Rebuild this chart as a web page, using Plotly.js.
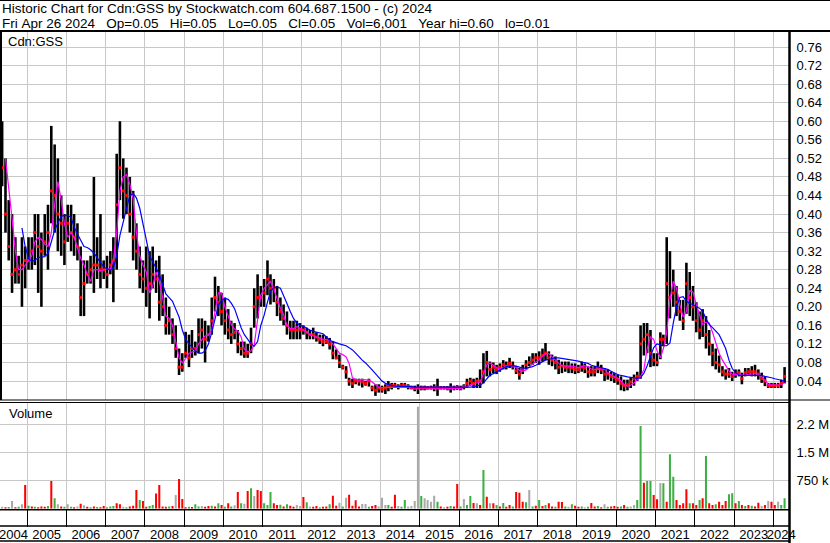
<!DOCTYPE html>
<html>
<head>
<meta charset="utf-8">
<script src="https://cdn.plot.ly/plotly-3.0.1.min.js"></script>
<style>html,body{margin:0;padding:0;background:#fff;}#chart{width:830px;height:543px;}</style>
</head>
<body>
<div id="chart"></div>
<script>
// ---- DATA (monthly bars, May 2004 .. Apr 2024) ----
const startYear = 2004, startMonth = 5, nMonths = 240;

const high = [
 0.60,0.52,0.43,0.40,0.35,0.31,0.35,0.33,
 0.35,0.35,0.40,0.40,0.36,0.40,0.42,0.59,0.55,0.52,0.44,0.40,
 0.42,0.42,0.40,0.38,0.33,0.30,0.30,0.31,0.48,0.35,0.40,0.30,
 0.31,0.32,0.35,0.53,0.60,0.52,0.50,0.48,0.45,0.38,0.33,0.30,
 0.33,0.32,0.33,0.30,0.31,0.27,0.22,0.20,0.175,0.16,0.11,0.10,
 0.146,0.14,0.15,0.125,0.175,0.175,0.17,0.16,0.22,0.265,0.245,0.23,
 0.22,0.195,0.17,0.165,0.15,0.125,0.125,0.12,0.155,0.24,0.27,0.245,
 0.26,0.30,0.27,0.26,0.245,0.22,0.205,0.19,0.17,0.17,0.17,0.165,
 0.16,0.155,0.15,0.155,0.145,0.14,0.14,0.137,0.133,0.126,0.108,0.097,
 0.075,0.072,0.047,0.045,0.045,0.045,0.045,0.04,0.045,0.03,0.033,0.033,
 0.03,0.033,0.04,0.036,0.036,0.033,0.036,0.036,0.033,0.03,0.03,0.033,
 0.03,0.03,0.029,0.03,0.033,0.045,0.029,0.029,0.029,0.035,0.03,0.031,
 0.03,0.033,0.045,0.047,0.045,0.047,0.065,0.10,0.105,0.082,0.08,0.075,
 0.078,0.085,0.082,0.09,0.082,0.072,0.068,0.075,0.085,0.093,0.10,0.10,
 0.104,0.11,0.122,0.104,0.097,0.093,0.086,0.082,0.082,0.082,0.078,0.078,
 0.075,0.082,0.078,0.072,0.072,0.072,0.082,0.075,0.068,0.065,0.06,0.057,
 0.054,0.05,0.043,0.043,0.047,0.054,0.06,0.16,0.165,0.165,0.15,0.10,
 0.10,0.145,0.14,0.35,0.32,0.28,0.245,0.215,0.215,0.295,0.275,0.245,
 0.21,0.19,0.195,0.18,0.15,0.12,0.11,0.095,0.072,0.065,0.068,0.06,
 0.065,0.065,0.058,0.068,0.068,0.072,0.075,0.065,0.058,0.05,0.036,0.036,
 0.036,0.036,0.043,0.07
];
const low = [
 0.46,0.36,0.30,0.23,0.25,0.25,0.20,0.24,
 0.28,0.28,0.29,0.23,0.20,0.31,0.28,0.38,0.36,0.32,0.31,0.29,
 0.34,0.32,0.31,0.30,0.18,0.18,0.25,0.25,0.23,0.26,0.24,0.26,
 0.24,0.27,0.21,0.28,0.43,0.39,0.40,0.36,0.30,0.28,0.24,0.23,
 0.20,0.175,0.24,0.23,0.17,0.18,0.14,0.14,0.12,0.09,0.053,0.06,
 0.09,0.07,0.09,0.095,0.10,0.11,0.08,0.125,0.14,0.19,0.18,0.16,
 0.14,0.13,0.12,0.13,0.10,0.095,0.09,0.09,0.10,0.155,0.175,0.20,
 0.20,0.225,0.205,0.21,0.18,0.17,0.16,0.14,0.13,0.13,0.13,0.13,
 0.14,0.13,0.13,0.13,0.125,0.12,0.115,0.12,0.108,0.087,0.087,0.068,
 0.065,0.045,0.03,0.025,0.033,0.03,0.026,0.03,0.028,0.018,0.008,0.015,
 0.015,0.012,0.018,0.022,0.025,0.022,0.025,0.025,0.022,0.022,0.018,0.012,
 0.02,0.02,0.022,0.022,0.018,0.008,0.022,0.022,0.02,0.015,0.02,0.021,
 0.02,0.022,0.025,0.03,0.025,0.025,0.025,0.035,0.05,0.05,0.057,0.055,
 0.06,0.065,0.065,0.068,0.065,0.055,0.043,0.055,0.065,0.072,0.075,0.079,
 0.075,0.082,0.085,0.075,0.072,0.065,0.055,0.057,0.06,0.057,0.057,0.055,
 0.057,0.06,0.057,0.047,0.05,0.05,0.057,0.055,0.04,0.043,0.04,0.036,
 0.032,0.02,0.018,0.02,0.025,0.03,0.04,0.045,0.095,0.10,0.07,0.072,
 0.072,0.087,0.115,0.12,0.175,0.20,0.18,0.17,0.15,0.185,0.18,0.17,
 0.145,0.13,0.135,0.11,0.095,0.072,0.065,0.058,0.05,0.043,0.047,0.04,
 0.047,0.05,0.033,0.05,0.054,0.05,0.05,0.043,0.036,0.029,0.025,0.025,
 0.025,0.025,0.025,0.035
];
const close = [
 0.50,0.40,0.33,0.27,0.28,0.27,0.29,0.30,
 0.30,0.32,0.36,0.33,0.32,0.34,0.36,0.45,0.44,0.40,0.38,0.34,
 0.38,0.36,0.35,0.33,0.22,0.25,0.27,0.28,0.29,0.29,0.28,0.28,
 0.27,0.29,0.30,0.42,0.50,0.45,0.44,0.40,0.35,0.32,0.27,0.26,
 0.24,0.25,0.27,0.26,0.21,0.20,0.16,0.17,0.14,0.11,0.07,0.07,
 0.10,0.09,0.11,0.11,0.14,0.15,0.13,0.14,0.17,0.22,0.21,0.19,
 0.17,0.15,0.14,0.145,0.12,0.11,0.10,0.10,0.12,0.20,0.22,0.22,
 0.23,0.26,0.24,0.24,0.21,0.19,0.175,0.16,0.15,0.15,0.15,0.15,
 0.15,0.145,0.14,0.14,0.135,0.13,0.125,0.125,0.12,0.10,0.09,0.08,
 0.07,0.06,0.04,0.035,0.04,0.04,0.038,0.035,0.04,0.025,0.02,0.025,
 0.022,0.025,0.03,0.03,0.03,0.028,0.03,0.03,0.028,0.026,0.024,0.025,
 0.025,0.025,0.025,0.025,0.025,0.025,0.025,0.025,0.024,0.025,0.025,0.026,
 0.025,0.028,0.035,0.04,0.035,0.04,0.04,0.06,0.08,0.065,0.07,0.065,
 0.07,0.075,0.072,0.078,0.072,0.062,0.055,0.065,0.075,0.08,0.085,0.09,
 0.09,0.095,0.10,0.09,0.085,0.08,0.07,0.072,0.07,0.07,0.068,0.065,
 0.065,0.07,0.068,0.06,0.06,0.06,0.068,0.065,0.055,0.055,0.05,0.048,
 0.043,0.035,0.03,0.032,0.038,0.045,0.05,0.12,0.13,0.14,0.10,0.085,
 0.08,0.13,0.13,0.25,0.22,0.23,0.21,0.19,0.17,0.25,0.22,0.20,
 0.17,0.15,0.17,0.14,0.12,0.10,0.08,0.075,0.06,0.055,0.055,0.05,
 0.055,0.058,0.045,0.058,0.06,0.06,0.06,0.055,0.045,0.04,0.03,0.03,
 0.03,0.03,0.035,0.05
];
// short moving average (magenta)
const maShort = [
 null,0.52,0.46,0.39,0.32,0.28,0.28,0.29,
 0.30,0.31,0.34,0.35,0.345,0.335,0.33,0.36,0.42,0.47,0.43,0.38,
 0.35,0.36,0.35,0.325,0.305,0.29,0.27,0.255,0.28,0.28,0.277,0.28,
 0.282,0.282,0.30,0.36,0.45,0.48,0.485,0.465,0.433,0.36,0.31,0.29,
 0.275,0.23,0.245,0.275,0.255,0.22,0.18,0.175,0.16,0.125,0.09,0.079,
 0.088,0.10,0.102,0.105,0.12,0.13,0.137,0.139,0.15,0.19,0.23,0.23,
 0.20,0.18,0.162,0.152,0.148,0.135,0.108,0.103,0.105,0.118,0.17,0.225,
 0.24,0.247,0.255,0.238,0.216,0.197,0.183,0.16,0.153,0.153,0.157,0.153,
 0.15,0.146,0.14,0.137,0.135,0.133,0.13,0.13,0.127,0.12,0.11,0.10,
 0.097,0.092,0.078,0.047,0.043,0.042,0.043,0.043,0.042,0.038,0.032,0.027,
 0.026,0.026,0.027,0.027,0.027,0.027,0.027,0.027,0.026,0.025,0.025,0.024,
 0.024,0.024,0.024,0.024,0.024,0.025,0.024,0.024,0.024,0.024,0.024,0.024,
 0.024,0.026,0.028,0.032,0.034,0.036,0.038,0.055,0.075,0.079,0.073,0.069,
 0.066,0.07,0.072,0.074,0.073,0.069,0.063,0.061,0.064,0.07,0.077,0.081,
 0.086,0.094,0.099,0.099,0.092,0.086,0.078,0.073,0.072,0.072,0.072,0.071,
 0.069,0.071,0.073,0.071,0.066,0.065,0.065,0.067,0.065,0.057,0.053,0.05,
 0.046,0.04,0.032,0.029,0.031,0.036,0.042,0.05,0.065,0.11,0.135,0.13,
 0.105,0.09,0.11,0.145,0.215,0.255,0.24,0.205,0.178,0.19,0.235,0.232,
 0.205,0.18,0.162,0.167,0.165,0.145,0.123,0.10,0.085,0.073,0.062,0.055,
 0.054,0.055,0.053,0.053,0.054,0.056,0.056,0.054,0.05,0.042,0.033,0.031,
 0.031,0.031,0.032,0.037
];
// long moving average (blue)
const maLong = [
 null,null,null,null,null,null,0.37,0.33,
 0.305,0.298,0.30,0.306,0.307,0.308,0.315,0.34,0.365,0.38,0.395,0.397,
 0.397,0.393,0.372,0.357,0.342,0.33,0.328,0.323,0.316,0.305,0.296,0.286,
 0.282,0.279,0.283,0.31,0.354,0.383,0.41,0.44,0.444,0.435,0.413,0.38,
 0.342,0.31,0.297,0.283,0.27,0.248,0.228,0.22,0.212,0.195,0.178,0.15,
 0.13,0.12,0.113,0.105,0.10,0.10,0.105,0.12,0.145,0.175,0.203,0.213,
 0.218,0.216,0.208,0.196,0.176,0.155,0.14,0.13,0.12,0.115,0.125,0.16,
 0.182,0.21,0.233,0.241,0.243,0.24,0.225,0.207,0.19,0.175,0.165,0.16,
 0.158,0.153,0.15,0.147,0.145,0.143,0.142,0.135,0.128,0.125,0.122,0.12,
 0.118,0.116,0.112,0.107,0.10,0.092,0.085,0.079,0.072,0.064,0.056,0.047,
 0.04,0.035,0.032,0.03,0.029,0.029,0.029,0.029,0.028,0.028,0.027,0.027,
 0.026,0.026,0.026,0.026,0.026,0.026,0.026,0.026,0.026,0.026,0.026,0.026,
 0.026,0.026,0.026,0.027,0.028,0.03,0.031,0.036,0.046,0.053,0.056,0.06,
 0.064,0.067,0.071,0.072,0.073,0.072,0.07,0.068,0.068,0.069,0.071,0.074,
 0.078,0.082,0.085,0.087,0.089,0.09,0.09,0.089,0.087,0.086,0.086,0.085,
 0.083,0.081,0.08,0.078,0.074,0.072,0.07,0.068,0.067,0.065,0.061,0.057,
 0.054,0.052,0.05,0.049,0.048,0.047,0.046,0.047,0.057,0.073,0.092,0.112,
 0.12,0.118,0.116,0.116,0.122,0.165,0.20,0.22,0.222,0.212,0.207,0.205,
 0.20,0.197,0.19,0.175,0.162,0.155,0.148,0.14,0.125,0.11,0.085,0.067,
 0.058,0.053,0.052,0.052,0.053,0.053,0.053,0.053,0.052,0.05,0.049,0.047,
 0.045,0.043,0.041,0.04
];
// volume, thousands of shares (largest day of each month)
const volumeK = [
 50,40,45,205,40,50,116,634,
 80,60,50,40,60,50,70,741,277,116,60,50,
 116,50,40,60,134,90,50,40,60,45,40,70,
 40,60,70,143,116,50,40,60,80,500,232,205,
 50,70,98,410,634,60,54,60,72,366,795,259,
 40,50,45,116,60,71,50,71,80,60,143,98,
 50,143,60,90,446,143,134,473,545,340,500,473,
 143,98,446,143,98,107,60,116,80,50,98,71,
 312,170,60,50,71,40,50,60,116,348,80,160,
 60,295,375,80,223,60,125,125,50,71,98,60,
 295,98,98,50,375,71,50,232,60,71,205,2730,
 340,277,232,187,348,187,60,40,50,71,60,661,
 60,259,98,340,152,143,98,1036,321,143,143,98,
 60,152,50,98,60,446,428,187,170,500,60,80,
 232,70,98,143,60,50,187,178,60,50,116,80,
 50,60,40,50,152,60,71,40,116,50,60,71,
 50,60,98,50,60,98,232,2215,697,741,741,366,
 250,688,679,187,1456,857,232,98,143,518,143,143,
 98,232,277,1410,143,98,116,187,98,205,384,411,
 143,205,98,71,98,80,60,160,71,98,205,187,
 98,187,98,277
];
// direction of the day behind each volume bar: u = up, d = down, f = unchanged
const volumeDir = [
 "fdufdufd",
 "ududddudufdu",
 "fudfdfdududd",
 "uuuddfudddud",
 "duuddddudfdd",
 "duduufddudud",
 "udufdufdufdd",
 "uuuddududdff",
 "dufddudduddf",
 "ufddddffuddf",
 "ffuddfuuffff",
 "uffffudfdudd",
 "ufuudfdudfdu",
 "duddudddufud",
 "ududduddufud",
 "dufuddudfudd",
 "duduffuuduud",
 "dfuduuddddud",
 "dududduddduu",
 "dudududdfdfd",
 "dfuu"
].join("").split("");

const yearLabels = ["2004","2005","2006","2007","2008","2009","2010","2011","2012","2013",
 "2014","2015","2016","2017","2018","2019","2020","2021","2022","2023","2024"];
const priceTicks = [0.04,0.08,0.12,0.16,0.20,0.24,0.28,0.32,0.36,0.40,0.44,0.48,0.52,0.56,0.60,0.64,0.68,0.72,0.76];
const volTickVals = [750000,1500000,2250000];
const volTickText = ["750 k","1.5 M","2.2 M"];

const headerLine1 = "Historic Chart for Cdn:GSS by Stockwatch.com 604.687.1500 - (c) 2024";
const headerLine2 = "Fri Apr 26 2024   Op=0.05   Hi=0.05   Lo=0.05   Cl=0.05   Vol=6,001   Year hi=0.60   lo=0.01";

// ---- BUILD ----
const n = Math.min(nMonths, high.length, low.length, close.length);
const pad = v => String(v).padStart(2, "0");
const dates = [];
for (let i = 0; i < n; i++) {
  const y = startYear + Math.floor((startMonth - 1 + i) / 12);
  const m = (startMonth - 1 + i) % 12 + 1;
  dates.push(`${y}-${pad(m)}-15`);
}
const xRange = ["2004-04-25", "2024-05-26"];
const toStr = ms => new Date(ms).toISOString().slice(0, 19).replace("T", " ");
const rStart = Date.parse(xRange[0] + "T00:00:00Z"), rEnd = Date.parse(xRange[1] + "T00:00:00Z");
const yearStarts = yearLabels.slice(1).map(y => `${y}-01-01`);
const labelPos = yearLabels.map(y => {
  const a = Math.max(Date.UTC(+y, 0, 1), rStart);
  const b = Math.min(Date.UTC(+y + 1, 0, 1), rEnd);
  return toStr((a + b) / 2);
});

const DAY = 86400000;
const FONT = "Liberation Sans, Arial, Helvetica, sans-serif";
const W = 830, H = 543;
const px = x => x / W, py = y => 1 - y / H;
const plotRight = 789 / W;

const volColor = {u: "#3cb043", d: "#ff0000", f: "#a9a9a9"};

const traces = [
  { type: "bar", x: dates, base: low.slice(0, n), y: high.slice(0, n).map((h, i) => h - low[i]),
    width: 24 * DAY, marker: {color: "#000000", line: {width: 0}}, xaxis: "x", yaxis: "y", hoverinfo: "skip" },
  { type: "scatter", mode: "markers", x: dates, y: close.slice(0, n),
    marker: {symbol: "square", size: 3, color: "#ff0000", line: {width: 0}}, xaxis: "x", yaxis: "y", hoverinfo: "skip" },
  { type: "scatter", mode: "lines", x: dates, y: maShort, line: {color: "#ff00ff", width: 1.2},
    connectgaps: false, xaxis: "x", yaxis: "y", hoverinfo: "skip" },
  { type: "scatter", mode: "lines", x: dates, y: maLong, line: {color: "#0000ff", width: 1.2},
    connectgaps: false, xaxis: "x", yaxis: "y", hoverinfo: "skip" },
  { type: "bar", x: dates, y: volumeK.slice(0, n).map(v => v * 1000), width: 19 * DAY,
    marker: {color: volumeDir.slice(0, n).map(d => volColor[d] || volColor.f), line: {width: 0}},
    xaxis: "x2", yaxis: "y2", hoverinfo: "skip" }
];

const line = (x0, y0, x1, y1, w) => ({type: "line", xref: "paper", yref: "paper",
  x0: px(x0), y0: py(y0), x1: px(x1), y1: py(y1), line: {color: "#000", width: w}, layer: "above"});

const layout = {
  width: W, height: H, autosize: false,
  margin: {l: 0, r: 0, t: 0, b: 0, pad: 0},
  paper_bgcolor: "#ffffff", plot_bgcolor: "#ffffff",
  showlegend: false, hovermode: false, barmode: "overlay",
  font: {family: FONT, size: 13, color: "#000"},
  xaxis: {
    domain: [0, plotRight], anchor: "y", type: "date", range: xRange,
    tickmode: "array", tickvals: yearStarts, showticklabels: false, ticks: "",
    showgrid: true, gridcolor: "#c8c8c8", gridwidth: 1, zeroline: false, showline: false, fixedrange: true
  },
  yaxis: {
    domain: [py(400), py(31)], anchor: "x", side: "right", range: [-0.0009, 0.7946],
    tickmode: "array", tickvals: priceTicks, tickformat: ".2f",
    ticks: "outside", ticklen: 4, tickcolor: "rgba(0,0,0,0)",
    showgrid: true, gridcolor: "#c8c8c8", gridwidth: 1, zeroline: false, showline: false,
    tickfont: {family: FONT, size: 13, color: "#000"}, fixedrange: true
  },
  xaxis2: {
    domain: [0, plotRight], anchor: "y2", type: "date", range: xRange,
    tickmode: "array", tickvals: labelPos, ticktext: yearLabels,
    ticks: "outside", ticklen: 14, tickcolor: "rgba(0,0,0,0)", tickangle: 0,
    ticklabeloverflow: "allow", showgrid: false, zeroline: false, showline: false,
    tickfont: {family: FONT, size: 13, color: "#000"},
    minor: {tickmode: "array", tickvals: yearStarts, ticks: "outside", ticklen: 17,
      tickcolor: "#000", tickwidth: 1, showgrid: true, gridcolor: "#c8c8c8", gridwidth: 1},
    fixedrange: true
  },
  yaxis2: {
    domain: [py(508.7), py(402)], anchor: "x2", side: "right", range: [0, 2858000],
    tickmode: "array", tickvals: volTickVals, ticktext: volTickText,
    ticks: "outside", ticklen: 4, tickcolor: "rgba(0,0,0,0)",
    showgrid: true, gridcolor: "#c8c8c8", gridwidth: 1, zeroline: false, showline: false,
    tickfont: {family: FONT, size: 13, color: "#000"}, fixedrange: true
  },
  shapes: [
    line(0, 0.5, 830, 0.5, 1),
    line(0, 31, 830, 31, 2),
    line(1, 31, 1, 400, 2),
    line(0, 400, 830, 400, 1),
    line(0, 402.5, 789, 402.5, 1),
    line(0, 509.8, 789, 509.8, 1.5),
    line(0, 526, 789, 526, 1.5),
    line(0, 541, 789, 541, 1.5),
    line(789.5, 31, 789.5, 543, 2.5)
  ],
  annotations: [
    {xref: "paper", yref: "paper", x: px(0), y: py(8.5), xanchor: "left", yanchor: "middle",
      text: headerLine1, showarrow: false, font: {family: FONT, size: 13.5, color: "#000"}},
    {xref: "paper", yref: "paper", x: px(0), y: py(23.5), xanchor: "left", yanchor: "middle",
      text: headerLine2.replace(/ /g, "\u00a0"), showarrow: false, font: {family: FONT, size: 13.5, color: "#000"}},
    {xref: "paper", yref: "paper", x: px(6), y: py(41.5), xanchor: "left", yanchor: "middle",
      text: "Cdn:GSS", showarrow: false, font: {family: FONT, size: 13, color: "#000"}},
    {xref: "paper", yref: "paper", x: px(7), y: py(413.5), xanchor: "left", yanchor: "middle",
      text: "Volume", showarrow: false, font: {family: FONT, size: 13, color: "#000"}}
  ]
};

Plotly.newPlot("chart", traces, layout, {staticPlot: true, displayModeBar: false});
</script>
</body>
</html>
